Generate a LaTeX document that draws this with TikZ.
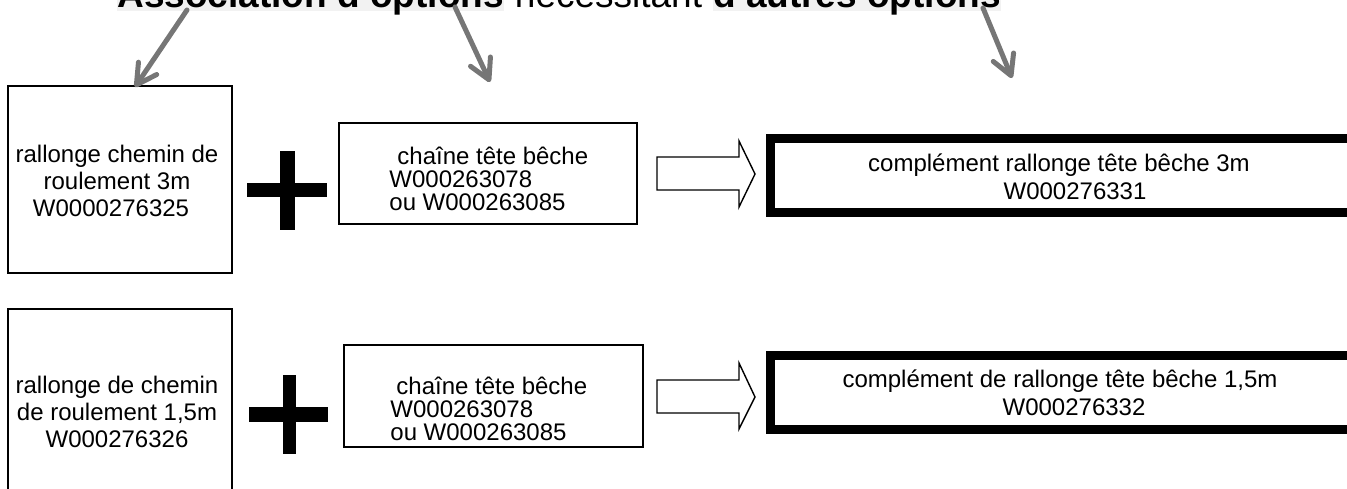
\documentclass[tikz,border=0pt]{standalone}
\usepackage{fontspec}
\setmainfont{Liberation Sans}
\usetikzlibrary{arrows.meta,fit}
\definecolor{hl}{HTML}{F2F2F2}
\definecolor{pointer}{HTML}{767676}
\begin{document}
\begin{tikzpicture}[x=0.5pt,y=-0.5pt,
  thinbox/.style={draw, line width=0.7pt, inner sep=0pt},
  heavybox/.style={draw, line width=4.5pt, inner sep=0pt},
  txt/.style={inner sep=0pt, font=\fontsize{12pt}{13.5pt}\selectfont},
  txtb/.style={inner sep=0pt, font=\fontsize{12pt}{11.5pt}\selectfont},
  txtc/.style={inner sep=0pt, font=\fontsize{12pt}{14pt}\selectfont},
  ttlbold/.style={inner sep=0pt, text depth=2pt, fill=hl, font=\fontsize{18.5pt}{20pt}\selectfont\bfseries},
  ttlplain/.style={inner sep=0pt, font=\fontsize{18.5pt}{20pt}\selectfont},
  pointerarrow/.style={draw=pointer, line width=2.5pt, line cap=round,
    -{Straight Barb[length=10pt,width=11pt,round]}},
  hollowarrow/.style={draw, line width=0.7pt, fill=white, line join=miter},
  plusbar/.style={fill=black}
]
\useasboundingbox (0,0) rectangle (1347,488);
\clip (0,0) rectangle (1347,488);

% heading (partly above the page edge)
\node[ttlbold, anchor=base west] (t1) at (117,7) {Association d’options};
\node[ttlplain, anchor=base west] (t2) at (t1.base east) {\hspace*{0.278em}nécessitant\hspace*{0.278em}};
\node[ttlbold, anchor=base west] (t3) at (t2.base east) {d’autres options};

% row 1 boxes
\node[thinbox, fit={(8,86) (232,273)}] (a1) {};
\node[thinbox, fit={(339,123) (637,224)}] (b1) {};
\node[heavybox, fit={(770.5,138.5) (1370,212.5)}] (c1) {};

% row 2 boxes
\node[thinbox, fit={(8,309) (232,500)}] (a2) {};
\node[thinbox, fit={(344,345) (643,447)}] (b2) {};
\node[heavybox, fit={(770.5,355) (1370,429)}] (c2) {};

% box texts
\node[txt, align=center] (a1t) at (117,181) {rallonge chemin de\\roulement 3m\\W0000276325\hspace*{6pt}};
\node[txtb, align=left, anchor=west] (b1t) at (389,179) {\hspace*{4pt}chaîne tête bêche\\W000263078\\ou W000263085};
\node[txtc, align=center] (c1t) at (1059,177) {complément rallonge tête bêche 3m\\\hspace*{16pt}W000276331};

\node[txt, align=center] (a2t) at (117,412) {rallonge de chemin\\de roulement 1,5m\\W000276326};
\node[txtb, align=left, anchor=west] (b2t) at (390,409) {\hspace*{3pt}chaîne tête bêche\\W000263078\\ou W000263085};
\node[txtc, align=center] (c2t) at (1060,393) {complément de rallonge tête bêche 1,5m\\\hspace*{14pt}W000276332};

% plus signs
\fill[plusbar] (247,183) rectangle (327,197);
\fill[plusbar] (280,151) rectangle (295,230);
\fill[plusbar] (249,407) rectangle (328,422);
\fill[plusbar] (283,375) rectangle (296,454);

% block arrows
\draw[hollowarrow] (657,157) -- (739,157) -- (739,141) -- (755,174) -- (739,207) -- (739,190) -- (657,190) -- cycle;
\draw[hollowarrow] (657,380) -- (739,380) -- (739,363) -- (755,397) -- (739,429) -- (739,413) -- (657,413) -- cycle;

% pointers from the heading
\coordinate (p1) at (187,10);
\coordinate (q1) at (135,87);
\coordinate (p2) at (455,7);
\coordinate (q2) at (490,82);
\coordinate (p3) at (983,8);
\coordinate (q3) at (1012,78);
\draw[pointerarrow] (p1) -- (q1);
\draw[pointerarrow] (p2) -- (q2);
\draw[pointerarrow] (p3) -- (q3);
\end{tikzpicture}
\end{document}
